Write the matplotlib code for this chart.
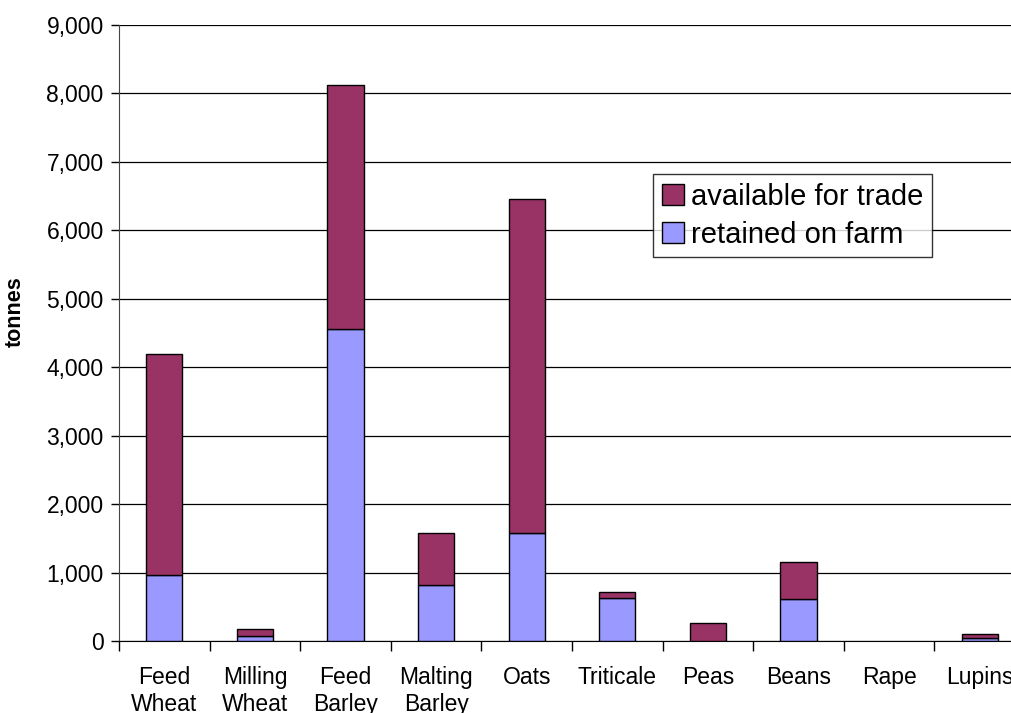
import matplotlib
matplotlib.use("Agg")
import matplotlib.pyplot as plt
from matplotlib.ticker import FuncFormatter, FixedLocator
import numpy as np

plt.rcParams['font.family'] = ['Liberation Sans', 'DejaVu Sans']

categories = ["Feed\nWheat", "Milling\nWheat", "Feed\nBarley", "Malting\nBarley", "Oats",
              "Triticale", "Peas", "Beans", "Rape", "Lupins"]
retained = [960, 70, 4560, 820, 1580, 630, 0, 610, 0, 40]
available = [3240, 105, 3560, 760, 4880, 80, 260, 550, 0, 55]

c_trade = "#993366"
c_retained = "#9999FF"

fig = plt.figure(figsize=(10.12, 7.13), dpi=100)
W, H = 1012, 713
ax = fig.add_axes([119 / W, (H - 641) / H, 906 / W, 616 / H])

x = np.arange(len(categories))
edges_ret = ["black" if v > 0 else "none" for v in retained]
edges_av = ["black" if v > 0 else "none" for v in available]
ax.bar(x, retained, width=0.4, color=c_retained, edgecolor=edges_ret, linewidth=1.0,
       label="retained on farm", zorder=3)
ax.bar(x, available, width=0.4, bottom=retained, color=c_trade, edgecolor=edges_av,
       linewidth=1.0, label="available for trade", zorder=3)

ax.set_xlim(-0.5, len(categories) - 0.5)
ax.set_ylim(0, 9000)
ax.yaxis.set_major_locator(FixedLocator(np.arange(0, 9001, 1000)))
ax.yaxis.set_major_formatter(FuncFormatter(lambda v, p: f"{int(v):,}"))
ax.grid(axis="y", color="black", linewidth=0.9, zorder=0)

ax.set_xticks(x)
ax.set_xticklabels(categories, fontsize=16.5, linespacing=1.2)
ax.tick_params(axis="x", which="major", length=0, pad=18)
ax.set_xticks(np.arange(-0.5, len(categories) - 0.4, 1.0), minor=True)
ax.tick_params(axis="x", which="minor", length=7, width=1.0, color="black")
ax.tick_params(axis="y", labelsize=16.5, length=6, width=1.0, pad=5)

for s in ["top", "right"]:
    ax.spines[s].set_visible(False)
ax.spines["left"].set_color("#444444")
ax.spines["bottom"].set_color("black")

ax.set_ylabel("tonnes", fontsize=15.5, fontweight="bold")
ax.yaxis.set_label_coords(-(119 - 26) / 906, 0.535)

handles, labels = ax.get_legend_handles_labels()
leg = ax.legend(handles[::-1], labels[::-1], loc="upper left",
                bbox_to_anchor=((653 - 119) / 906, (641 - 174) / 616),
                fontsize=21, frameon=True, fancybox=False, edgecolor="black",
                handlelength=0.75, handleheight=0.75, handletextpad=0.25,
                borderpad=0.3, labelspacing=0.34, borderaxespad=0)
leg.get_frame().set_linewidth(1.0)

fig.savefig("out.png", dpi=100)
